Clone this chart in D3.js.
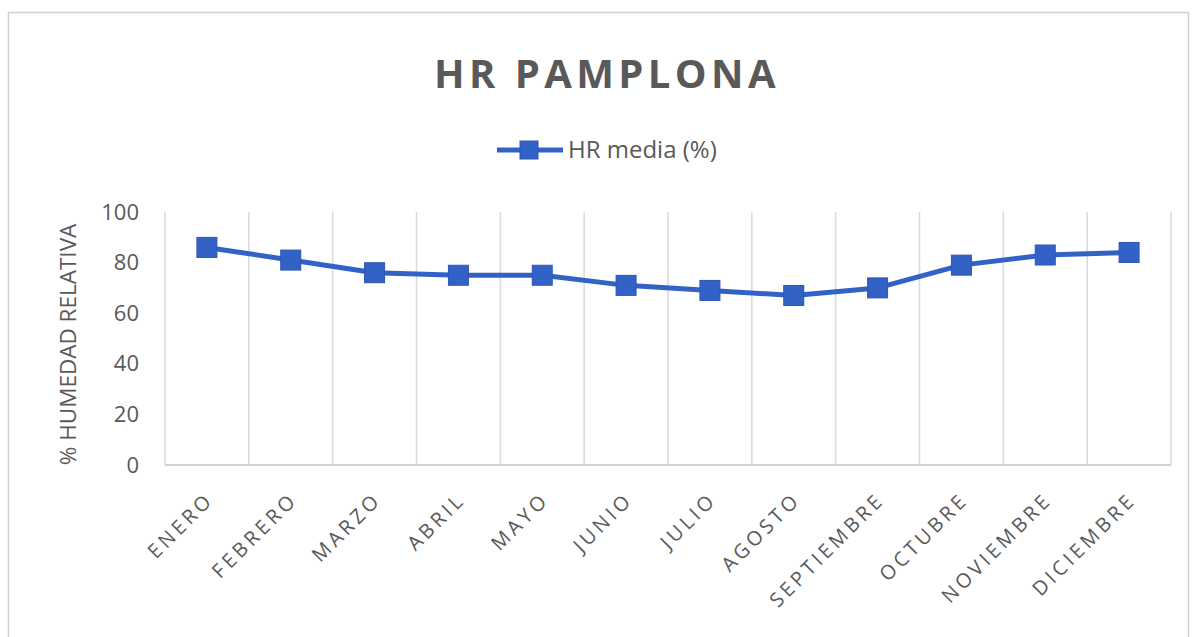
<!DOCTYPE html>
<html>
<head>
<meta charset="utf-8">
<script src="https://cdn.jsdelivr.net/npm/d3@7"></script>
<style>
  body { margin: 0; background: #fff; }
  text { font-family: "Open Sans", "Noto Sans", sans-serif; fill: #595959; }
</style>
</head>
<body>
<div id="container"></div>
<script>
var months = ['ENERO', 'FEBRERO', 'MARZO', 'ABRIL', 'MAYO', 'JUNIO', 'JULIO',
              'AGOSTO', 'SEPTIEMBRE', 'OCTUBRE', 'NOVIEMBRE', 'DICIEMBRE'];
var hrMedia = [86, 81, 76, 75, 75, 71, 69, 67, 70, 79, 83, 84];
var yTicks = [0, 20, 40, 60, 80, 100];

var width = 1194, height = 637;
var plotLeft = 165, plotRight = 1171, plotTop = 212, plotBottom = 465;
var lineColor = '#3262c6';

var svg = d3.select('#container')
    .append('svg')
    .attr('width', width)
    .attr('height', height);

// chart frame
svg.append('rect')
    .attr('x', 8.5).attr('y', 12.5)
    .attr('width', 1180).attr('height', 640)
    .style('fill', 'none')
    .style('stroke', '#d0d0d0')
    .style('stroke-width', 1.5);

var x = d3.scaleBand()
    .domain(months)
    .range([plotLeft, plotRight]);

var y = d3.scaleLinear()
    .domain([0, 100])
    .range([plotBottom, plotTop]);

// vertical gridlines at category boundaries
var bounds = months.map(function(m) { return x(m); }).concat([plotRight]);
svg.selectAll('.grid')
    .data(bounds)
    .enter()
    .append('line')
    .attr('x1', function(d) { return d; })
    .attr('x2', function(d) { return d; })
    .attr('y1', plotTop)
    .attr('y2', plotBottom)
    .style('stroke', '#d9d9d9')
    .style('stroke-width', 1.5);

// bottom axis line
svg.append('line')
    .attr('x1', plotLeft).attr('x2', plotRight)
    .attr('y1', plotBottom).attr('y2', plotBottom)
    .style('stroke', '#d0d0d0')
    .style('stroke-width', 2);

// y tick labels
var yAxis = svg.append('g')
    .attr('transform', 'translate(' + plotLeft + ',0)')
    .call(d3.axisLeft(y).tickValues(yTicks).tickSize(0).tickPadding(26));
yAxis.select('.domain').remove();
yAxis.selectAll('text')
    .style('font-size', '22px')
    .style('font-family', '"Open Sans", sans-serif')
    .attr('fill', '#595959');

// x tick labels
var xAxis = svg.append('g')
    .attr('transform', 'translate(0,' + plotBottom + ')')
    .call(d3.axisBottom(x).tickSize(0));
xAxis.select('.domain').remove();
xAxis.selectAll('text')
    .style('font-size', '20px')
    .style('letter-spacing', '3.6px')
    .style('font-family', '"Open Sans", sans-serif')
    .attr('fill', '#595959')
    .attr('text-anchor', 'end')
    .attr('dy', 0)
    .attr('y', 0)
    .attr('transform', 'translate(8,36) rotate(-45)');

// y axis title
svg.append('text')
    .attr('transform', 'translate(76,' + ((plotTop + plotBottom) / 2 + 6) + ') rotate(-90)')
    .attr('text-anchor', 'middle')
    .style('font-size', '22.5px')
    .text('% HUMEDAD RELATIVA');

// chart title
svg.append('text')
    .attr('x', 607)
    .attr('y', 88)
    .attr('text-anchor', 'middle')
    .style('font-size', '40px')
    .style('font-weight', 'bold')
    .style('letter-spacing', '4.4px')
    .text('HR PAMPLONA');

// legend
var legend = svg.append('g').attr('transform', 'translate(497,150)');
legend.append('line')
    .attr('x1', 0).attr('x2', 66)
    .attr('y1', 0).attr('y2', 0)
    .style('stroke', lineColor)
    .style('stroke-width', 5);
legend.append('rect')
    .attr('x', 23).attr('y', -9)
    .attr('width', 18).attr('height', 18)
    .style('fill', lineColor)
    .style('stroke', '#2d56b3');
legend.append('text')
    .attr('x', 71)
    .attr('y', 8)
    .style('font-size', '24px')
    .text('HR media (%)');

// series line
var line = d3.line()
    .x(function(d, i) { return x(months[i]) + x.bandwidth() / 2; })
    .y(function(d) { return y(d); });

svg.append('path')
    .datum(hrMedia)
    .attr('d', line)
    .style('fill', 'none')
    .style('stroke', lineColor)
    .style('stroke-width', 5)
    .style('stroke-linejoin', 'round');

svg.selectAll('.marker')
    .data(hrMedia)
    .enter()
    .append('rect')
    .attr('class', 'marker')
    .attr('x', function(d, i) { return x(months[i]) + x.bandwidth() / 2 - 10; })
    .attr('y', function(d) { return y(d) - 10; })
    .attr('width', 20)
    .attr('height', 20)
    .style('fill', lineColor)
    .style('stroke', '#2d56b3')
    .style('stroke-width', 1);
</script>
</body>
</html>
